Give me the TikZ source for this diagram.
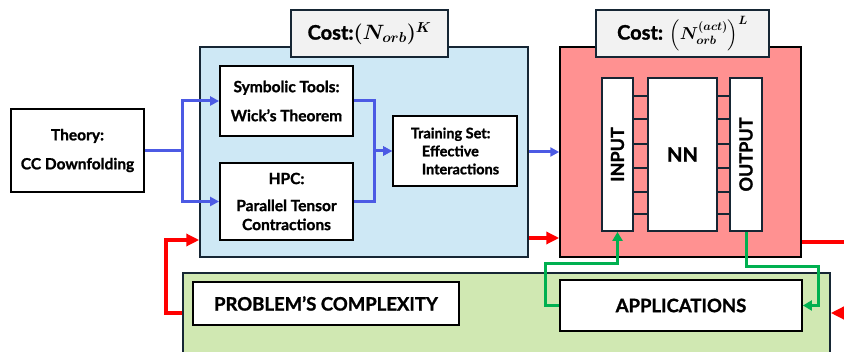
\documentclass[tikz,border=0pt]{standalone}
\usepackage{fontspec}
\usepackage{amsmath,bm}
\setmainfont{Lato}[BoldFeatures={FakeBold=1.2}]
\usetikzlibrary{arrows.meta}

\definecolor{boxline}{RGB}{22,38,52}
\definecolor{hpcblue}{RGB}{206,232,245}
\definecolor{nnred}{RGB}{255,145,145}
\definecolor{appgreen}{RGB}{208,232,178}
\definecolor{costgray}{RGB}{242,242,242}
\definecolor{flowblue}{RGB}{76,90,228}
\definecolor{flowgreen}{RGB}{0,176,80}

\tikzset{
  stage/.style={draw=boxline,line width=1.5pt,inner sep=0pt},
  tbox/.style={draw=black,line width=1.8pt,fill=white,inner sep=0pt,
    align=center,font=\fontsize{15.5}{29}\selectfont\bfseries},
  cost/.style={stage,fill=costgray,font=\fontsize{20}{23}\selectfont\bfseries},
  blueflow/.style={flowblue,line width=3pt,-{Triangle[length=9pt,width=9pt]}},
  redflow/.style={red,line width=4pt,-{Triangle[length=13pt,width=12pt]}},
  greenflow/.style={flowgreen,line width=3pt,-{Triangle[length=9pt,width=10pt]}}
}

\begin{document}
\begin{tikzpicture}[x=1pt,y=-1pt]
  \useasboundingbox (0,0) rectangle (844,352);
  \clip (0,0) rectangle (844,352);

  \node[stage,fill=hpcblue,minimum width=328,minimum height=210] (blue) at (364,152) {};
  \node[stage,fill=nnred,draw=black,minimum width=241,minimum height=210] (red) at (680.5,152) {};
  \node[stage,fill=appgreen,minimum width=647,minimum height=100] (green) at (506.5,323) {};

  \node[cost,minimum width=157,minimum height=47] (costA) at (369.5,33.5)
    {Cost:{\boldmath$(N_{orb})^{K}$}};
  \node[cost,minimum width=173,minimum height=47] (costB) at (682.5,33.5)
    {Cost: {\fontsize{18}{20}\selectfont\boldmath$\Bigl(N^{(act)}_{orb}\Bigr)^{L}$}};

  \node[tbox,minimum width=133,minimum height=83] (theory) at (77.5,150.5) {Theory:\\CC Downfolding};
  \node[tbox,minimum width=133,minimum height=70] (sym) at (286.5,101) {Symbolic Tools:\\Wick's Theorem};
  \node[tbox,minimum width=133,minimum height=77,font=\fontsize{15.5}{19}\selectfont\bfseries] (hpc) at (286.5,201.5)
    {HPC:\\[8pt]Parallel Tensor\\Contractions};
  \node[tbox,minimum width=124,minimum height=70,align=left,font=\fontsize{14.5}{18}\selectfont\bfseries] (train) at (455,151)
    {Training Set:\\\hspace{11pt}Effective\\\hspace{11pt}Interactions};

  \node[tbox,draw=boxline,minimum width=31,minimum height=153] (inp) at (617.5,154.5) {};
  \node[tbox,draw=boxline,minimum width=69,minimum height=153,font=\fontsize{20}{23}\selectfont\bfseries] (nn) at (682.5,154.5) {NN};
  \node[tbox,draw=boxline,minimum width=32,minimum height=153] (outp) at (746,154.5) {};
  \node[rotate=90,font=\fontsize{18}{21}\selectfont\bfseries] at (inp) {INPUT};
  \node[rotate=90,font=\fontsize{18}{21}\selectfont\bfseries] at (outp) {OUTPUT};

  \foreach \y in {96,119,144,168,192,214}{
    \draw[line width=1.5pt,boxline] (inp.east |- 0,\y) -- (nn.west |- 0,\y);
    \draw[line width=1.5pt,boxline] (nn.east |- 0,\y) -- (outp.west |- 0,\y);
  }

  \node[tbox,minimum width=266,minimum height=43,font=\fontsize{18.5}{21}\selectfont\bfseries] (prob) at (326,303.5) {PROBLEM'S COMPLEXITY};
  \node[tbox,minimum width=242,minimum height=51,font=\fontsize{18.5}{21}\selectfont\bfseries] (app) at (681,305.5) {APPLICATIONS};

  \coordinate (rout) at (850,242);
  \coordinate (rin) at (850,313);

  \foreach \to in {sym,hpc}
    \draw[blueflow] (theory.east) -- ++(38,0) |- (\to.west);
  \foreach \from in {sym,hpc}
    \draw[blueflow] (\from.east) -- ++(21,0) |- (train.west);
  \draw[blueflow] (blue.east) -- (red.west);

  \draw[redflow] ([yshift=-86pt]blue.east) -- ([yshift=-86pt]red.west);
  \draw[redflow] ([yshift=10pt]green.west) -- ++(-16,0) |- ([yshift=-88pt]blue.west);
  \draw[red,line width=4pt] ([yshift=-90pt]red.east) -- (rout);
  \draw[redflow] (rin) -- (green.east |- rin);

  \draw[greenflow] (app.west) -- ++(-14,0) -- ++(0,-41.5) -| (inp.south);
  \draw[greenflow] (outp.south) -- ++(0,35) -- ++(72,0) |- (app.east);
\end{tikzpicture}
\end{document}
